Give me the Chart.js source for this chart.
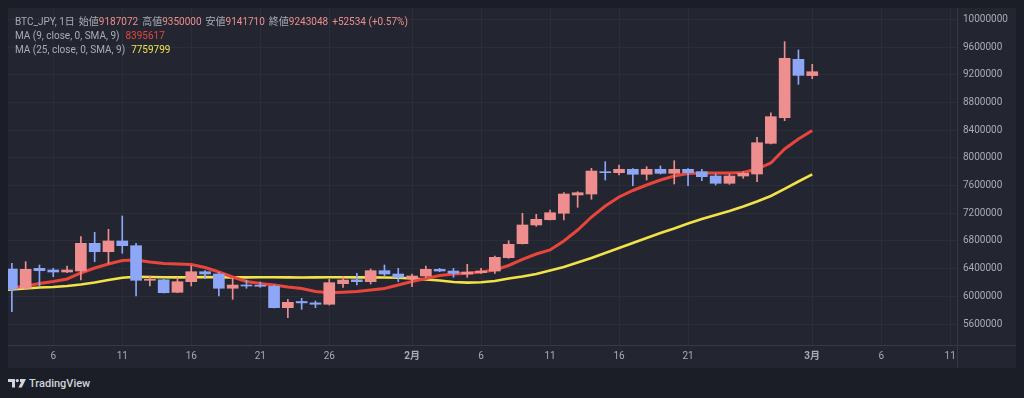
<!DOCTYPE html>
<html>
<head>
<meta charset="utf-8">
<script src="https://cdn.jsdelivr.net/npm/chart.js@4.4.1/dist/chart.umd.min.js"></script>
<style>
html,body{margin:0;padding:0;width:1024px;height:398px;overflow:hidden;background:#1b1e26;font-family:Roboto,"Noto Sans CJK JP",sans-serif;}
#panel{position:absolute;left:8px;top:8px;width:1008px;height:360px;background:#232630;}
#wrap{position:absolute;left:8px;top:8px;width:1008px;height:360px;}
#legend{position:absolute;left:15px;top:15px;font-size:10px;line-height:13.8px;color:#a9acb5;white-space:nowrap;}
#legend .g{margin-left:4px;}
#legend .h{margin-left:6px;}
.up{color:#ee8e8e}
.ma9{color:#e8453c}
.ma25{color:#f2e24a}
#footer{position:absolute;left:8px;top:376px;height:14px;display:flex;align-items:center;}
#footer span{margin-left:3px;font-size:11px;font-weight:500;color:#d1d4dc;letter-spacing:0;}
</style>
</head>
<body>
<div id="panel"></div>
<div id="wrap"><canvas id="c" width="1008" height="360"></canvas></div>
<div id="legend"></div>
<div id="footer">
<svg width="18" height="9" viewBox="0 0 18 9"><path d="M0 0H7V8.5H4V3H0Z" fill="#d1d4dc"/><circle cx="9.3" cy="1.6" r="1.6" fill="#d1d4dc"/><path d="M12 0H18L13.8 8.5H10.3L13.3 3H12Z" fill="#d1d4dc"/></svg>
<span>TradingView</span>
</div>
<script>
// ---- data (BTC_JPY daily, 2024) ----
const dates = ['1/2','1/3','1/4','1/5','1/6','1/7','1/8','1/9','1/10','1/11','1/12','1/13','1/14','1/15','1/16','1/17','1/18','1/19','1/20','1/21','1/22','1/23','1/24','1/25','1/26','1/27','1/28','1/29','1/30','1/31',
  '2/1','2/2','2/3','2/4','2/5','2/6','2/7','2/8','2/9','2/10','2/11','2/12','2/13','2/14','2/15','2/16','2/17','2/18','2/19','2/20','2/21','2/22','2/23','2/24','2/25','2/26','2/27','2/28','2/29','3/1'];
const openP  = [null,6394000,6116000,6404000,6380000,6351000,6365000,6765000,6644000,6799000,6731000,6231000,6238000,6058000,6211000,6355000,6322000,6116000,6163000,6156000,6145000,5836000,5925000,5905000,5885000,6182000,6238000,6211000,6370000,6322000,
  6256000,6293000,6390000,6365000,6322000,6341000,6365000,6558000,6760000,7030000,7106000,7199000,7463000,7477000,7799000,7785000,7834000,7762000,7834000,7776000,7834000,7799000,7737000,7632000,7737000,7766000,8209000,8579000,9422000,9187072];
const highP  = [null,6477000,6500000,6452000,6404000,6438000,6861000,6924000,6968000,7160000,6765000,6293000,6246000,6274000,6438000,6370000,6341000,6260000,6235000,6207000,6163000,5957000,5971000,5932000,6246000,6283000,6332000,6394000,6452000,6404000,
  6322000,6438000,6404000,6404000,6462000,6404000,6582000,6803000,7199000,7184000,7246000,7496000,7511000,7848000,7944000,7896000,7845000,7872000,7882000,7958000,7845000,7834000,7766000,7766000,7799000,8296000,8651000,9677000,9557000,9350000];
const lowP   = [null,5778000,6100000,6149000,6283000,6341000,6235000,6500000,6477000,6621000,6004000,6149000,6048000,6052000,6149000,6254000,6004000,5957000,6116000,6130000,5831000,5691000,5812000,5836000,5874000,6130000,6163000,6178000,6293000,6211000,
  6139000,6274000,6355000,6274000,6274000,6332000,6332000,6549000,6755000,7011000,7102000,7102000,7285000,7401000,7679000,7752000,7597000,7679000,7766000,7622000,7597000,7669000,7607000,7617000,7704000,7655000,8199000,8536000,9061000,9141710];
const closeP = [null,6101000,6390000,6370000,6351000,6380000,6765000,6644000,6799000,6731000,6231000,6238000,6052000,6211000,6355000,6322000,6116000,6163000,6149000,6145000,5836000,5913000,5905000,5885000,6197000,6235000,6211000,6370000,6322000,6274000,
  6293000,6390000,6365000,6332000,6351000,6365000,6563000,6751000,7030000,7112000,7207000,7477000,7496000,7809000,7785000,7834000,7762000,7834000,7776000,7834000,7785000,7727000,7632000,7737000,7776000,8218000,8594000,9437000,9190514,9243048];
const ma9    = [6105000,6120000,6149000,6185000,6214000,6250000,6337000,6409000,6467000,6517000,6524000,6495000,6474000,6467000,6459000,6416000,6351000,6279000,6214000,6185000,6163000,6134000,6113000,6069000,6052000,6059000,6069000,6091000,6113000,6163000,
  6214000,6257000,6300000,6322000,6332000,6351000,6380000,6445000,6532000,6611000,6669000,6799000,6957000,7145000,7304000,7434000,7528000,7607000,7679000,7737000,7773000,7781000,7781000,7781000,7788000,7838000,7925000,8127000,8272000,8395617];
const ma25   = [6084000,6098000,6113000,6127000,6134000,6149000,6171000,6199000,6235000,6269000,6283000,6279000,6276000,6274000,6275000,6277000,6276000,6274000,6273000,6275000,6276000,6274000,6272000,6273000,6275000,6276000,6274000,6273000,6272000,6269000,
  6257000,6243000,6228000,6207000,6197000,6202000,6221000,6257000,6286000,6322000,6373000,6423000,6488000,6553000,6625000,6698000,6770000,6842000,6914000,6979000,7051000,7116000,7174000,7232000,7297000,7369000,7448000,7550000,7658000,7759799];
const tickDays   = [6,11,16,21,26,32,37,42,47,52,61,66,71];
const tickLabels = ['6','11','16','21','26','2月','6','11','16','21','3月','6','11'];
const priceTicks = [5600000,6000000,6400000,6800000,7200000,7600000,8000000,8400000,8800000,9200000,9600000,10000000];

// ---- helpers ----
const UP = '#ee8e8e', DOWN = '#8ea6f6';
function dayOfYear(s){ const [m,d] = s.split('/').map(Number); return (Date.UTC(2024,m-1,d) - Date.UTC(2024,0,0)) / 864e5; }
const xs = dates.map(dayOfYear);
const bodies = [], wicks = [], cols = [];
xs.forEach((x,i) => {
  if (openP[i] == null) return;
  bodies.push({x, y:[openP[i], closeP[i]]});
  wicks.push({x, y:[lowP[i], highP[i]]});
  cols.push(closeP[i] >= openP[i] ? UP : DOWN);
});
const ma9Pts = xs.map((x,i)=>({x, y:ma9[i]}));
const ma25Pts = xs.map((x,i)=>({x, y:ma25[i]}));

// ---- legend text ----
const n = closeP.length - 1;
const chg = closeP[n] - closeP[n-1];
const pct = (chg / closeP[n-1] * 100).toFixed(2);
const sgn = chg >= 0 ? '+' : '';
document.getElementById('legend').innerHTML =
  '<div>BTC_JPY, 1日<span class="g">始値</span><span class="up">'+openP[n]+'</span>'+
  '<span class="g">高値</span><span class="up">'+highP[n]+'</span>'+
  '<span class="g">安値</span><span class="up">'+lowP[n]+'</span>'+
  '<span class="g">終値</span><span class="up">'+closeP[n]+'</span>'+
  '<span class="g up">'+sgn+chg+' ('+sgn+pct+'%)</span></div>'+
  '<div>MA (9, close, 0, SMA, 9)<span class="h ma9">'+ma9[ma9.length-1]+'</span></div>'+
  '<div>MA (25, close, 0, SMA, 9)<span class="h ma25">'+ma25[ma25.length-1]+'</span></div>';

const frame = {
  id:'frame',
  afterDraw(chart){
    const {ctx, chartArea:a, width, height} = chart;
    ctx.save();
    ctx.strokeStyle = '#363a46'; ctx.lineWidth = 1;
    ctx.beginPath();
    ctx.moveTo(0, a.bottom + 0.5); ctx.lineTo(width, a.bottom + 0.5);
    ctx.moveTo(a.right + 0.5, 0); ctx.lineTo(a.right + 0.5, height);
    ctx.stroke();
    ctx.restore();
  }
};

new Chart(document.getElementById('c'), {
  type:'bar',
  data:{
    datasets:[
      {type:'bar', data:bodies, backgroundColor:cols, borderWidth:0, barThickness:11, grouped:false, minBarLength:1, order:0},
      {type:'bar', data:wicks, backgroundColor:cols, borderWidth:0, barThickness:1, grouped:false, order:1},
      {type:'line', data:ma9Pts, borderColor:'#e8453c', borderWidth:3, pointRadius:0, tension:0, order:3},
      {type:'line', data:ma25Pts, borderColor:'#f2e24a', borderWidth:2.6, pointRadius:0, tension:0, order:4}
    ]
  },
  options:{
    responsive:false, animation:false,
    layout:{padding:0},
    plugins:{legend:{display:false}, tooltip:{enabled:false}},
    scales:{
      x:{
        type:'linear', min:2.72, max:71.49, offset:false,
        grid:{color:'#2a2e39', drawTicks:false, offset:false},
        border:{display:false},
        afterBuildTicks:s=>{ s.ticks = tickDays.map(v=>({value:v})); },
        afterFit:s=>{ s.height = 23; s.paddingLeft = 0; s.paddingRight = 0; },
        ticks:{
          color:'#a8abb4', padding:5, maxRotation:0, autoSkip:false,
          font:ctx=>({family:'Roboto, "Noto Sans CJK JP"', size:10, weight: /月/.test(tickLabels[ctx.index]||'') ? 'bold' : 'normal'}),
          callback:v=>{ const i = tickDays.indexOf(v); return i >= 0 ? tickLabels[i] : ''; }
        }
      },
      y:{
        type:'linear', position:'right', min:5296814, max:10163174,
        grid:{color:'#2a2e39', drawTicks:false},
        border:{display:false},
        afterBuildTicks:s=>{ s.ticks = priceTicks.map(v=>({value:v})); },
        afterFit:s=>{ s.width = 59; s.paddingTop = 0; s.paddingBottom = 0; },
        ticks:{color:'#a8abb4', padding:6, font:{family:'Roboto', size:10}, callback:v=>String(v)}
      }
    }
  },
  plugins:[frame]
});
</script>
</body>
</html>
